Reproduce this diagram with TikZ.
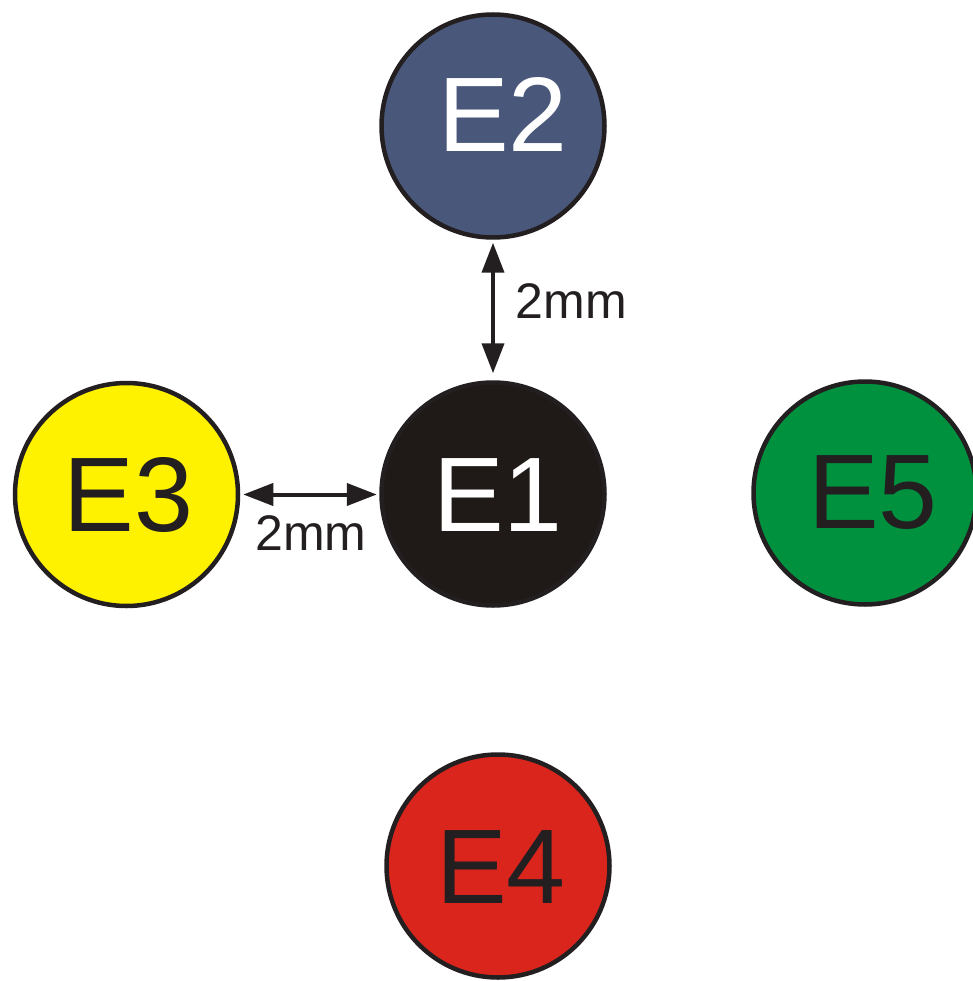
\documentclass[tikz,border=0pt]{standalone}
\usepackage{fontspec}
\setmainfont{Liberation Sans}
\usetikzlibrary{arrows.meta}
\definecolor{cE1}{RGB}{31,26,23}
\definecolor{cE2}{RGB}{73,87,122}
\definecolor{cE3}{RGB}{255,242,0}
\definecolor{cE4}{RGB}{218,37,29}
\definecolor{cE5}{RGB}{0,145,63}
\definecolor{ink}{RGB}{35,31,32}
\tikzset{
  disc/.style={circle, draw=ink, line width=4.5pt, minimum size=223pt, inner sep=0pt},
  big/.style={inner sep=0pt, font=\fontsize{106}{106}\selectfont},
  dim/.style={inner sep=0pt, text=ink, font=\fontsize{50}{50}\selectfont},
  dimarrow/.style={draw=ink, line width=4pt, {Triangle[length=30pt,width=22pt]}-{Triangle[length=30pt,width=22pt]}}
}
\begin{document}
\begin{tikzpicture}[x=1pt,y=-1pt]
\useasboundingbox (0,0) rectangle (972,981);
\node[disc, fill=cE2] (E2) at (493,126) {};
\node[disc, fill=cE1] (E1) at (493,494) {};
\node[disc, fill=cE3] (E3) at (126.5,494.5) {};
\node[disc, fill=cE5] (E5) at (865,493) {};
\node[disc, fill=cE4] (E4) at (498,866) {};
\node[big, text=white] (tE2) at (503,114.5) {E2};
\node[big, text=white] (tE1) at (498,495) {E1};
\node[big, text=ink] (tE3) at (128.5,495) {E3};
\node[big, text=ink] (tE5) at (873,492.5) {E5};
\node[big, text=ink] (tE4) at (501,867) {E4};
\draw[dimarrow, shorten <=3pt, shorten >=7pt] (E2.south) -- (E1.north);
\draw[dimarrow, shorten <=3pt, shorten >=2.5pt] (E3.east) -- (E1.west |- E3.east);
\node[dim] (d1) at (571.5,301) {2mm};
\node[dim] (d2) at (311,533) {2mm};
\end{tikzpicture}
\end{document}
